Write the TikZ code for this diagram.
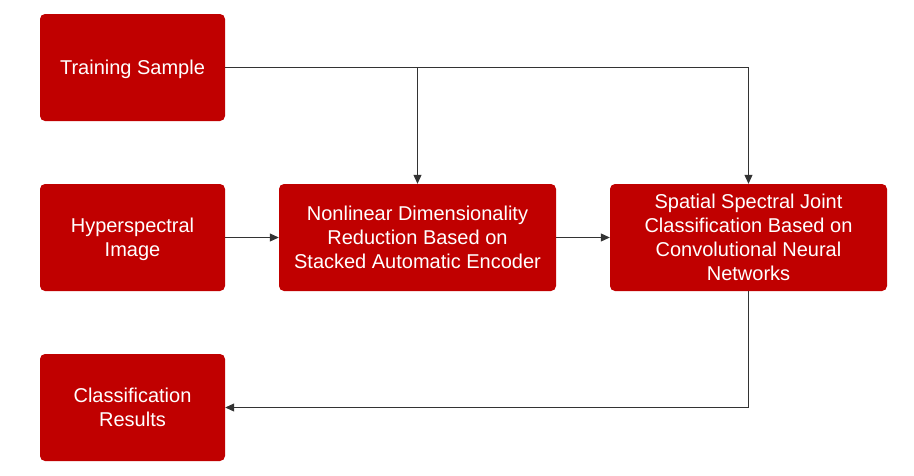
\documentclass[tikz,border=0pt]{standalone}
\usepackage{fontspec}
\setmainfont{Liberation Sans}
\usetikzlibrary{arrows.meta}
\definecolor{boxred}{HTML}{C00000}
\definecolor{linegray}{HTML}{333333}
\tikzset{
  box/.style={draw=none, fill=boxred, rounded corners=5pt, text=white,
    align=center, font=\fontsize{20pt}{24pt}\selectfont, inner sep=0pt, text depth=0pt},
  conn/.style={draw=linegray, line width=1pt, -{Triangle[length=9pt,width=8pt]}}
}
\begin{document}
\begin{tikzpicture}[x=1pt,y=-1pt]
\useasboundingbox (0,0) rectangle (914,475);
\node[box, minimum width=185pt, minimum height=107pt] (ts) at (132.5,67.5) {Training Sample};
\node[box, minimum width=185pt, minimum height=107pt] (hi) at (132.5,237.5) {Hyperspectral\\Image};
\node[box, minimum width=185pt, minimum height=107pt] (cr) at (132.5,407.5) {Classification\\Results};
\node[box, minimum width=277pt, minimum height=107pt] (nl) at (417.5,237.5) {Nonlinear Dimensionality\\Reduction Based on\\Stacked Automatic Encoder};
\node[box, minimum width=277pt, minimum height=107pt] (ss) at (748.5,237.5) {Spatial Spectral Joint\\Classification Based on\\Convolutional Neural\\Networks};
\draw[conn] (ts.east) -| (nl.north);
\draw[conn] (ts.east) -| (ss.north);
\draw[conn] (hi.east) -- (nl.west);
\draw[conn] (nl.east) -- (ss.west);
\coordinate (corner) at (ss.south |- cr.east);
\draw[conn] (ss.south) -- (corner) -- (cr.east);
\end{tikzpicture}
\end{document}
